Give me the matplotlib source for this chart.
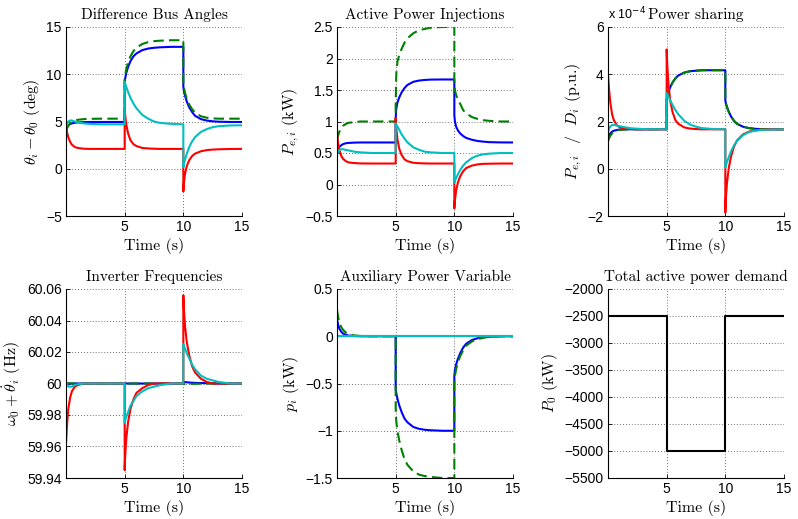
import matplotlib
matplotlib.use("Agg")
import matplotlib.pyplot as plt

plt.rcParams['mathtext.fontset'] = 'cm'
plt.rcParams['font.family'] = ['Liberation Sans', 'DejaVu Sans']

# shared time axis (s); repeated 5 and 10 mark the load steps
t = [0, 0.1, 0.2, 0.35, 0.5, 0.75, 1, 1.5, 2, 3, 5,
     5, 5.05, 5.15, 5.3, 5.5, 5.75, 6, 6.5, 7, 7.5, 8, 9, 10,
     10, 10.05, 10.15, 10.3, 10.5, 10.75, 11, 11.5, 12, 12.5, 13, 14, 15]

# Difference bus angles (deg)
ang_blue = [4.2, 4.45, 4.6, 4.72, 4.8, 4.87, 4.9, 4.93, 4.95, 4.95, 4.95,
            9.2, 9.6, 10.2, 10.8, 11.4, 11.9, 12.2, 12.55, 12.72, 12.8, 12.85, 12.9, 12.9,
            8.7, 8.2, 7.7, 7.1, 6.5, 6.0, 5.6, 5.25, 5.1, 5.02, 4.98, 4.95, 4.95]
ang_green = [4.0, 4.3, 4.55, 4.8, 4.95, 5.1, 5.18, 5.25, 5.28, 5.3, 5.3,
             9.5, 10.0, 10.6, 11.3, 11.9, 12.45, 12.8, 13.2, 13.4, 13.5, 13.55, 13.6, 13.6,
             9.2, 8.6, 8.0, 7.4, 6.8, 6.3, 5.95, 5.55, 5.4, 5.33, 5.3, 5.3, 5.3]
ang_red = [4.4, 3.8, 3.3, 2.85, 2.55, 2.3, 2.2, 2.12, 2.1, 2.1, 2.1,
           6.5, 5.6, 4.6, 3.7, 3.0, 2.6, 2.4, 2.2, 2.15, 2.12, 2.1, 2.1, 2.1,
           -2.4, -1.5, -0.5, 0.3, 0.9, 1.35, 1.6, 1.85, 1.97, 2.03, 2.06, 2.09, 2.1]
ang_cyan = [4.4, 4.8, 5.0, 5.1, 5.1, 5.0, 4.9, 4.8, 4.75, 4.7, 4.7,
            9.2, 9.0, 8.6, 8.1, 7.5, 6.9, 6.4, 5.7, 5.3, 5.0, 4.85, 4.75, 4.7,
            0.2, 0.5, 1.0, 1.6, 2.3, 2.9, 3.35, 3.9, 4.2, 4.4, 4.5, 4.58, 4.6]

# Active power injections (kW)
pe_blue = [0.52, 0.57, 0.6, 0.62, 0.64, 0.655, 0.66, 0.665, 0.667, 0.667, 0.667,
           1.05, 1.2, 1.3, 1.38, 1.46, 1.53, 1.58, 1.63, 1.65, 1.66, 1.665, 1.667, 1.667,
           1.1, 1.0, 0.92, 0.86, 0.81, 0.77, 0.74, 0.71, 0.69, 0.68, 0.672, 0.668, 0.667]
pe_green = [0.7, 0.78, 0.84, 0.89, 0.93, 0.96, 0.98, 0.99, 1.0, 1.0, 1.0,
            1.25, 1.75, 1.95, 2.05, 2.15, 2.25, 2.32, 2.4, 2.45, 2.47, 2.49, 2.5, 2.5,
            1.6, 1.5, 1.42, 1.35, 1.28, 1.18, 1.13, 1.07, 1.04, 1.02, 1.01, 1.0, 1.0]
pe_red = [0.8, 0.65, 0.55, 0.46, 0.41, 0.37, 0.35, 0.34, 0.335, 0.333, 0.333,
          1.05, 0.9, 0.72, 0.57, 0.47, 0.4, 0.37, 0.345, 0.338, 0.335, 0.333, 0.333, 0.333,
          -0.38, -0.25, -0.1, 0.03, 0.13, 0.21, 0.26, 0.3, 0.32, 0.328, 0.33, 0.333, 0.333]
pe_cyan = [0.48, 0.52, 0.55, 0.56, 0.56, 0.55, 0.54, 0.52, 0.51, 0.5, 0.5,
           0.97, 0.95, 0.92, 0.87, 0.8, 0.73, 0.67, 0.59, 0.55, 0.52, 0.51, 0.5, 0.5,
           0.03, 0.06, 0.1, 0.16, 0.23, 0.3, 0.35, 0.42, 0.46, 0.48, 0.49, 0.5, 0.5]

# Power sharing P_e,i / D_i (x 1e-4 p.u.)
ps_blue = [1.3, 1.42, 1.5, 1.57, 1.61, 1.64, 1.66, 1.67, 1.67, 1.67, 1.67,
           2.9, 3.05, 3.25, 3.45, 3.65, 3.83, 3.95, 4.07, 4.13, 4.15, 4.17, 4.17, 4.17,
           2.9, 2.75, 2.6, 2.4, 2.2, 2.02, 1.9, 1.78, 1.72, 1.69, 1.68, 1.67, 1.67]
ps_green = [1.15, 1.3, 1.4, 1.5, 1.56, 1.62, 1.65, 1.66, 1.67, 1.67, 1.67,
            2.9, 3.05, 3.25, 3.45, 3.65, 3.83, 3.95, 4.07, 4.13, 4.15, 4.17, 4.17, 4.17,
            2.9, 2.75, 2.6, 2.4, 2.2, 2.02, 1.9, 1.78, 1.72, 1.69, 1.68, 1.67, 1.67]
ps_red = [4.0, 3.3, 2.8, 2.3, 2.05, 1.85, 1.75, 1.7, 1.68, 1.67, 1.67,
          5.05, 4.4, 3.6, 2.9, 2.4, 2.05, 1.9, 1.75, 1.7, 1.68, 1.67, 1.67, 1.67,
          -1.85, -1.2, -0.55, 0.05, 0.55, 0.95, 1.2, 1.45, 1.57, 1.62, 1.65, 1.67, 1.67]
ps_cyan = [1.55, 1.7, 1.8, 1.85, 1.86, 1.83, 1.8, 1.75, 1.71, 1.68, 1.67,
           3.2, 3.15, 3.05, 2.9, 2.7, 2.48, 2.3, 2.03, 1.87, 1.78, 1.72, 1.68, 1.67,
           0.05, 0.15, 0.3, 0.5, 0.75, 1.0, 1.18, 1.42, 1.55, 1.61, 1.64, 1.66, 1.67]

# Inverter frequencies (Hz)
f_blue = [59.9995, 59.9997, 59.9998, 59.9999, 60, 60, 60, 60, 60, 60, 60,
          60, 60, 60, 60, 60, 60, 60, 60, 60, 60, 60, 60, 60,
          60.001, 60.001, 60.0009, 60.0008, 60.0006, 60.0005, 60.0004, 60.0003, 60.0002, 60.0001, 60, 60, 60]
f_green = [60.0005, 60.0003, 60.0002, 60.0001, 60, 60, 60, 60, 60, 60, 60,
           60, 60, 60, 60, 60, 60, 60, 60, 60, 60, 60, 60, 60,
           59.9997, 59.9996, 59.9996, 59.9996, 59.9997, 59.9998, 59.9998, 59.9999, 60, 60, 60, 60, 60]
f_red = [59.962, 59.975, 59.984, 59.991, 59.995, 59.998, 59.999, 60, 60, 60, 60,
         59.945, 59.955, 59.966, 59.976, 59.984, 59.99, 59.994, 59.997, 59.999, 60, 60, 60, 60,
         60.056, 60.047, 60.036, 60.026, 60.018, 60.011, 60.007, 60.003, 60.001, 60, 60, 60, 60]
f_cyan = [60.001, 59.999, 59.998, 59.998, 59.998, 59.999, 59.9995, 60, 60, 60, 60,
          59.975, 59.977, 59.979, 59.982, 59.986, 59.989, 59.992, 59.995, 59.997, 59.998, 59.999, 60, 60,
          60.025, 60.024, 60.022, 60.019, 60.016, 60.012, 60.009, 60.005, 60.003, 60.002, 60.001, 60, 60]

# Auxiliary power variable (kW)
p_blue = [0.18, 0.12, 0.08, 0.05, 0.03, 0.015, 0.007, 0.002, 0, 0, 0,
          -0.55, -0.6, -0.66, -0.73, -0.8, -0.87, -0.91, -0.96, -0.98, -0.99, -0.995, -1.0, -1.0,
          -0.42, -0.36, -0.3, -0.24, -0.18, -0.12, -0.08, -0.04, -0.02, -0.01, -0.005, 0, 0]
p_green = [0.28, 0.2, 0.15, 0.1, 0.07, 0.04, 0.02, 0.008, 0.003, 0, 0,
           -0.75, -0.9, -1.0, -1.1, -1.2, -1.3, -1.36, -1.43, -1.465, -1.48, -1.49, -1.5, -1.5,
           -0.5, -0.42, -0.35, -0.28, -0.21, -0.15, -0.1, -0.055, -0.03, -0.015, -0.005, 0, 0]
p_red = [0] * len(t)
p_cyan = [0] * len(t)

# Total active power demand (kW)
t_p0 = [0, 5, 5, 10, 10, 15]
p0 = [-2500, -2500, -5000, -5000, -2500, -2500]

BLUE = (0, 0, 1)
GREEN = (0, 0.5, 0)
RED = (1, 0, 0)
CYAN = (0, 0.75, 0.75)

fig = plt.figure(figsize=(7.98, 5.19), dpi=100)

W, H = 798.0, 519.0
lefts = [66, 337, 608]
tops = [27, 289]
aw, ah = 176, 189

axes = []
for r in range(2):
    for c in range(3):
        ax = fig.add_axes([lefts[c] / W, 1 - (tops[r] + ah) / H, aw / W, ah / H])
        axes.append(ax)

serif = dict(family='cmr10')


def fmt(v):
    return ('%g' % v).replace('-', '\u2212')


def style(ax, title, ylabel, ylim, yticks):
    ax.set_xlim(0, 15)
    ax.set_xticks([5, 10, 15])
    ax.set_ylim(*ylim)
    ax.set_yticks(yticks)
    ax.set_yticklabels([fmt(v) for v in yticks])
    ax.grid(True, linestyle=(0, (1, 2.5)), color='0.25', linewidth=0.6)
    ax.spines['top'].set_visible(False)
    ax.spines['right'].set_visible(False)
    ax.tick_params(direction='in', length=3, labelsize=10, width=0.6, pad=3)
    for s in ['left', 'bottom']:
        ax.spines[s].set_linewidth(0.8)
    ax.set_title(title, fontsize=11, fontdict=serif, pad=6)
    ax.set_xlabel('Time (s)', fontsize=11.5, fontdict=serif, labelpad=3)
    ax.set_ylabel(ylabel, fontsize=11.5, fontdict=serif, labelpad=3)


def four(ax, b, g, r, cy):
    ax.plot(t, b, color=BLUE, lw=1.5)
    ax.plot(t, g, color=GREEN, lw=1.5, dashes=(5, 2.5))
    ax.plot(t, r, color=RED, lw=1.5)
    ax.plot(t, cy, color=CYAN, lw=1.5)


ax = axes[0]
four(ax, ang_blue, ang_green, ang_red, ang_cyan)
style(ax, 'Difference Bus Angles', r'$\theta_i - \theta_0$ (deg)', (-5, 15), [-5, 0, 5, 10, 15])

ax = axes[1]
four(ax, pe_blue, pe_green, pe_red, pe_cyan)
style(ax, 'Active Power Injections', r'$P_{e,i}$ (kW)', (-0.5, 2.5),
      [-0.5, 0, 0.5, 1, 1.5, 2, 2.5])

ax = axes[2]
four(ax, ps_blue, ps_green, ps_red, ps_cyan)
style(ax, 'Power sharing', r'$P_{e,i}$  /  $D_i$ (p.u.)', (-2, 6), [-2, 0, 2, 4, 6])
ax.text(0, 1.025, 'x 10$^{\u2212 4}$', transform=ax.transAxes, fontsize=9,
        math_fontfamily='dejavusans', va='bottom', ha='left')

ax = axes[3]
four(ax, f_blue, f_green, f_red, f_cyan)
style(ax, 'Inverter Frequencies', r'$\omega_0 + \dot{\theta}_i$ (Hz)', (59.94, 60.06),
      [59.94, 59.96, 59.98, 60, 60.02, 60.04, 60.06])

ax = axes[4]
four(ax, p_blue, p_green, p_red, p_cyan)
style(ax, 'Auxiliary Power Variable', r'$p_i$ (kW)', (-1.5, 0.5),
      [-1.5, -1, -0.5, 0, 0.5])

ax = axes[5]
ax.plot(t_p0, p0, color='k', lw=1.5)
style(ax, 'Total active power demand', r'$P_0$ (kW)', (-5500, -2000),
      list(range(-5500, -1999, 500)))

fig.savefig('out.png', dpi=100)
